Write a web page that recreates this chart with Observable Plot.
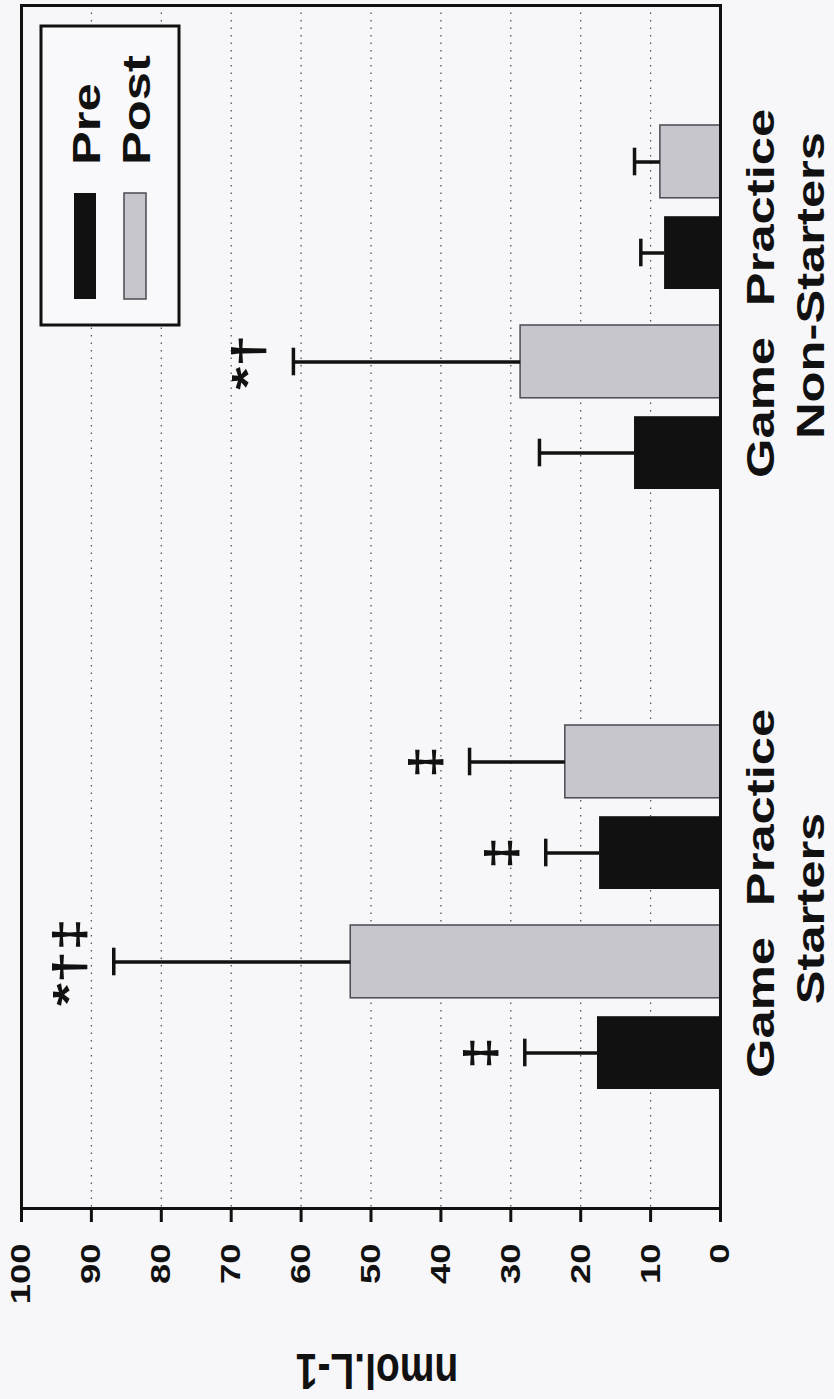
<!DOCTYPE html>
<html>
<head>
<meta charset="utf-8">
<script src="https://cdn.jsdelivr.net/npm/d3@7"></script>
<script src="https://cdn.jsdelivr.net/npm/@observablehq/plot@0.6"></script>
<style>
  html, body { margin: 0; padding: 0; background: #f7f7fa; }
  #chart svg { display: block; }
</style>
</head>
<body>
<div id="chart"></div>
<script>
// ---- data ----
const groupNames   = ["Starters", "Starters", "Non-Starters", "Non-Starters"];
const sessionNames = ["Game", "Practice", "Game", "Practice"];
const phases       = ["Pre", "Post"];
const preMean  = [17.6, 17.3, 12.3, 8.0];
const preSD    = [10.4, 7.7, 13.6, 3.4];
const postMean = [52.9, 22.2, 28.6, 8.6];
const postSD   = [33.9, 13.7, 32.5, 3.7];
const preSig   = ["‡", "‡", "", ""];
const postSig  = ["*†‡", "‡", "*†", ""];
const xTicks   = [0, 10, 20, 30, 40, 50, 60, 70, 80, 90, 100];
const gridTicks = [10, 20, 30, 40, 50, 60, 70, 80, 90];
const yLabel   = "nmol.L-1";

// ---- styles ----
const phaseColors = ["#111111", "#c6c6cc"];
const FONT = "'Liberation Sans', Arial, Helvetica, sans-serif";
const STRETCH = 1.3;

// ---- tables built from the arrays ----
const pairOf = i => groupNames[i] + " " + sessionNames[i];
const pre = preMean.map((m, i) => ({pair: pairOf(i), group: groupNames[i], session: sessionNames[i], phase: "Pre", mean: m, sd: preSD[i], sig: preSig[i]}));
const post = postMean.map((m, i) => ({pair: pairOf(i), group: groupNames[i], session: sessionNames[i], phase: "Post", mean: m, sd: postSD[i], sig: postSig[i]}));
const pairs = pre.map(d => d.pair).reverse();
const yDomain = [pairs[0], pairs[1], "spacer", pairs[2], pairs[3]];
const sessionRows = pre;
const groupTop = (g) => pre.filter(d => d.group === g).slice(-1);

const bandHalf = 82.2;
const off = 45.5;

const plot = Plot.plot({
  width: 834,
  height: 1399,
  marginTop: 5,
  marginBottom: 191,
  marginLeft: 21,
  marginRight: 114,
  style: {fontFamily: FONT, fontWeight: "bold", background: "#f7f7fa", color: "#111", overflow: "visible"},
  x: {domain: [0, 100], reverse: true, axis: null},
  y: {type: "band", domain: yDomain, paddingInner: 0.18, paddingOuter: 0.59, axis: null},
  color: {domain: phases, range: phaseColors},
  marks: [
    Plot.gridX(gridTicks, {stroke: "#555", strokeOpacity: 1, strokeWidth: 1.3, strokeDasharray: "1.5,6"}),
    Plot.barX(pre, {x: "mean", y: "pair", fill: "phase", insetTop: bandHalf + 9, insetBottom: 0}),
    Plot.barX(post, {x: "mean", y: "pair", fill: "phase", stroke: "#4a4a52", strokeWidth: 1.5, insetTop: 0, insetBottom: bandHalf + 9}),
    Plot.ruleY(pre, {x1: "mean", x2: d => d.mean + d.sd, y: "pair", dy: off, stroke: "#111", strokeWidth: 3.5}),
    Plot.ruleY(post, {x1: "mean", x2: d => d.mean + d.sd, y: "pair", dy: -off, stroke: "#111", strokeWidth: 3.5}),
    Plot.tickX(pre, {x: d => d.mean + d.sd, y: "pair", insetTop: bandHalf + off - 14, insetBottom: bandHalf - off - 14, stroke: "#111", strokeWidth: 3.5}),
    Plot.tickX(post, {x: d => d.mean + d.sd, y: "pair", insetTop: bandHalf - off - 14, insetBottom: bandHalf + off - 14, stroke: "#111", strokeWidth: 3.5}),
    Plot.text(pre.filter(d => d.sig), {x: d => d.mean + d.sd, y: "pair", text: "sig", dy: off, dx: -30, rotate: -90, textAnchor: "middle", lineAnchor: "bottom", fontSize: 45, fill: "#111"}),
    Plot.text(post.filter(d => d.sig), {x: d => d.mean + d.sd, y: "pair", text: "sig", dy: -off, dx: -30, rotate: -90, textAnchor: "middle", lineAnchor: "bottom", fontSize: 45, fill: "#111"}),
    Plot.frame({stroke: "#111", strokeWidth: 3}),
    Plot.axisX(xTicks, {anchor: "bottom", tickSize: 14, tickPadding: 21, tickRotate: -90, textAnchor: "end", lineAnchor: "middle", fontSize: 28, strokeWidth: 3, label: null}),
    Plot.text(sessionRows, {y: "pair", text: "session", frameAnchor: "right", dx: 41, rotate: -90, textAnchor: "middle", lineAnchor: "middle", fontSize: 39, fill: "#111"}),
    Plot.text(groupTop("Starters"), {y: "pair", text: "group", frameAnchor: "right", dx: 91, dy: 101, rotate: -90, textAnchor: "middle", lineAnchor: "middle", fontSize: 39, fill: "#111"}),
    Plot.text(groupTop("Non-Starters"), {y: "pair", text: "group", frameAnchor: "right", dx: 91, dy: 78, rotate: -90, textAnchor: "middle", lineAnchor: "middle", fontSize: 39, fill: "#111"}),
    Plot.text([yLabel], {frameAnchor: "bottom", dx: 6, dy: 162, rotate: 180, textAnchor: "middle", lineAnchor: "middle", fontSize: 39, fill: "#111"})
  ]
});

// legend (inside the frame, top-left)
const svg = d3.select(plot);
const lg = svg.append("g").attr("class", "legend");
lg.append("rect").attr("x", 41).attr("y", 26).attr("width", 138).attr("height", 299)
  .attr("fill", "#f9f9fb").attr("stroke", "#111").attr("stroke-width", 3);
const legX = [74, 124];
phases.forEach((p, i) => {
  lg.append("rect").attr("x", legX[i]).attr("y", 193).attr("width", 22).attr("height", 106)
    .attr("fill", phaseColors[i]).attr("stroke", i ? "#4a4a52" : "none").attr("stroke-width", 1.5);
  lg.append("text").attr("transform", `translate(${legX[i] + 26},165) rotate(-90)`)
    .attr("text-anchor", "start").attr("font-size", 39).attr("font-family", FONT)
    .attr("font-weight", "bold").attr("fill", "#111").text(p);
});

// the scanned figure is stretched along the page's vertical direction
svg.selectAll("text").each(function () {
  const t = this.getAttribute("transform") || "";
  if (t.includes("rotate(-90)")) this.setAttribute("transform", t + ` scale(${STRETCH},1)`);
  else if (t.includes("rotate(180)")) this.setAttribute("transform", t + ` scale(1,${STRETCH})`);
});

document.getElementById("chart").appendChild(plot);
</script>
</body>
</html>
